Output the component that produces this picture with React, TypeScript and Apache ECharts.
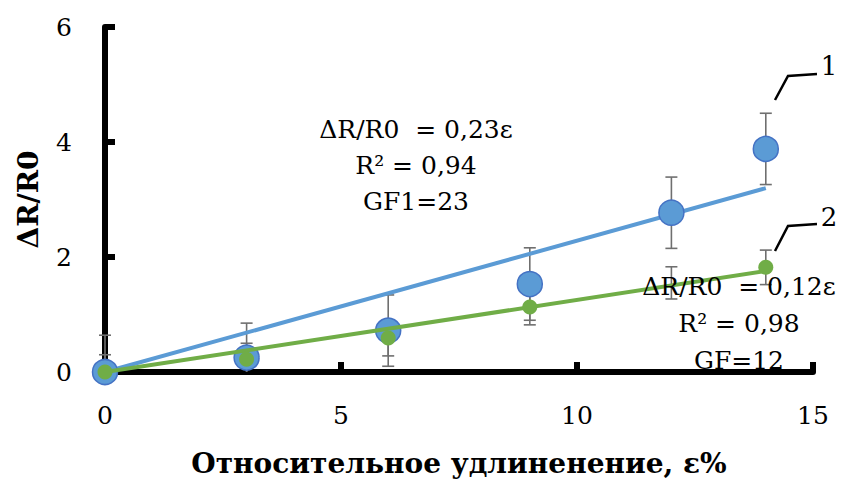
import React, { useEffect, useRef } from "react";
import * as echarts from "echarts";

// Data
const strain = [0, 3, 6, 9, 12, 14];
const sample1 = [0, 0.25, 0.72, 1.53, 2.77, 3.88];
const err1 = [0.64, 0.6, 0.62, 0.63, 0.62, 0.62];
const sample2 = [0, 0.22, 0.59, 1.13, 1.55, 1.82];
const err2 = [0.3, 0.28, 0.31, 0.31, 0.28, 0.3];
const hidden2 = [false, false, false, false, true, false];

const xTicks = { min: 0, max: 15, interval: 5 };
const yTicks = { min: 0, max: 6, interval: 2 };

const eq1 = ["ΔR/R0  = 0,23ε", "R² = 0,94", "GF1=23"];
const eq2 = ["ΔR/R0  = 0,12ε", "R² = 0,98", "GF=12"];

const BLUE = "#5B9BD5";
const BLUE_EDGE = "#4472C4";
const GREEN = "#70AD47";
const ERR = "#6f6f6f";
const FONT = "DejaVu Serif";

function slopeThroughOrigin(xs: number[], ys: number[]) {
  let sxy = 0;
  let sxx = 0;
  xs.forEach((x, i) => {
    sxy += x * ys[i];
    sxx += x * x;
  });
  return sxy / sxx;
}

function errorSeries(vals: number[], errs: number[], z: number) {
  return {
    type: "custom",
    z,
    clip: false,
    silent: true,
    encode: { x: 0, y: 1 },
    data: strain.map((x, i) => [x, vals[i], errs[i]]),
    renderItem: (params: any, api: any) => {
      const x = api.value(0);
      const v = api.value(1);
      const e = api.value(2);
      const lo = Math.max(0, v - e);
      const top = api.coord([x, v + e]);
      const bot = api.coord([x, lo]);
      const cap = 6;
      const style = { stroke: ERR, lineWidth: 1.6 };
      const children: any[] = [
        { type: "line", shape: { x1: top[0], y1: top[1], x2: bot[0], y2: bot[1] }, style },
        { type: "line", shape: { x1: top[0] - cap, y1: top[1], x2: top[0] + cap, y2: top[1] }, style },
      ];
      if (v - e >= 0) {
        children.push({ type: "line", shape: { x1: bot[0] - cap, y1: bot[1], x2: bot[0] + cap, y2: bot[1] }, style });
      }
      return { type: "group", children };
    },
  };
}

export default function App() {
  const ref = useRef<HTMLDivElement>(null);

  useEffect(() => {
    document.body.style.margin = "0";
    if (!ref.current) return;
    const chart = echarts.init(ref.current, null, { renderer: "svg" });

    const k1 = slopeThroughOrigin(strain, sample1);
    const k2 = slopeThroughOrigin(strain, sample2);
    const xEnd = strain[strain.length - 1];

    const textEl = (t: string, x: number, y: number, size = 25) => ({
      type: "text",
      z: 100,
      style: {
        text: t,
        x,
        y,
        textAlign: "center",
        textVerticalAlign: "middle",
        fontFamily: FONT,
        fontSize: size,
        fill: "#000",
      },
    });

    const option: any = {
      animation: false,
      textStyle: { fontFamily: FONT },
      grid: { left: 105, right: 28, top: 27, bottom: 112, containLabel: false, outerBoundsMode: "none" },
      xAxis: {
        type: "value",
        ...xTicks,
        name: "Относительное удлиненение, ε%",
        nameLocation: "middle",
        nameGap: 77,
        nameTextStyle: { fontFamily: FONT, fontSize: 28, fontWeight: "bold", color: "#000" },
        axisLine: { show: true, lineStyle: { color: "#000", width: 6 } },
        axisTick: { show: true, inside: true, length: 10, lineStyle: { color: "#000", width: 6 } },
        axisLabel: { fontFamily: FONT, fontSize: 25, color: "#000", margin: 31 },
        splitLine: { show: false },
      },
      yAxis: {
        type: "value",
        ...yTicks,
        name: "ΔR/R0",
        nameLocation: "middle",
        nameRotate: 90,
        nameGap: 63,
        nameTextStyle: { fontFamily: FONT, fontSize: 28, fontWeight: "bold", color: "#000" },
        axisLine: { show: true, lineStyle: { color: "#000", width: 6 } },
        axisTick: { show: true, inside: true, length: 10, lineStyle: { color: "#000", width: 6 } },
        axisLabel: { fontFamily: FONT, fontSize: 25, color: "#000", margin: 33 },
        splitLine: { show: false },
      },
      series: [
        errorSeries(sample1, err1, 1),
        errorSeries(sample2, err2, 1),
        {
          type: "line",
          z: 2,
          clip: false,
          silent: true,
          showSymbol: false,
          data: [
            [0, 0],
            [xEnd, k1 * xEnd],
          ],
          lineStyle: { color: BLUE, width: 4 },
        },
        {
          type: "scatter",
          z: 3,
          clip: false,
          symbolSize: 25,
          data: strain.map((x, i) => [x, sample1[i]]),
          itemStyle: { color: BLUE, borderColor: BLUE_EDGE, borderWidth: 1.5, opacity: 1 },
        },
        {
          type: "line",
          z: 4,
          clip: false,
          silent: true,
          showSymbol: false,
          data: [
            [0, 0],
            [xEnd, k2 * xEnd],
          ],
          lineStyle: { color: GREEN, width: 4 },
        },
        {
          type: "scatter",
          z: 5,
          clip: false,
          symbolSize: 15,
          data: strain.map((x, i) => ({
            value: [x, sample2[i]],
            itemStyle: hidden2[i] ? { opacity: 0 } : undefined,
          })),
          itemStyle: { color: GREEN, opacity: 1 },
        },
      ],
      graphic: [
        ...eq1.map((t, i) => textEl(t, 416, 129 + i * 36)),
        ...eq2.map((t, i) => textEl(t, 739, 286 + i * 37)),
        textEl("1", 829, 66, 26),
        textEl("2", 829, 217, 26),
        {
          type: "polyline",
          z: 100,
          shape: { points: [[775, 100], [788, 76], [817, 74]] },
          style: { stroke: "#000", lineWidth: 2.5, fill: null },
        },
        {
          type: "polyline",
          z: 100,
          shape: { points: [[775, 251], [788, 226], [817, 224]] },
          style: { stroke: "#000", lineWidth: 2.5, fill: null },
        },
      ],
    };

    chart.setOption(option);
    return () => chart.dispose();
  }, []);

  return <div ref={ref} style={{ width: 841, height: 484 }} />;
}
